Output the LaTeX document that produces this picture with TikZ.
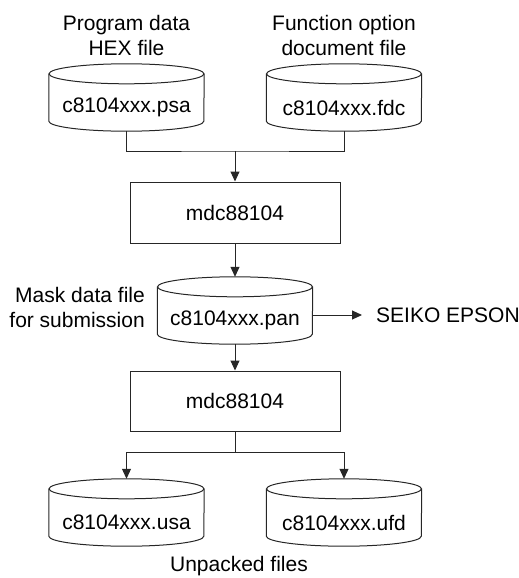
\documentclass[tikz,border=0pt]{standalone}
\usepackage{fontspec}
\setmainfont{Liberation Sans}
\usetikzlibrary{arrows.meta,calc}
\begin{document}
\begin{tikzpicture}[x=1pt,y=-1pt,
  line/.style={draw=black!85,line width=1pt},
  arr/.style={line,-{Triangle[length=10pt,width=9pt]}},
  cyl/.style={minimum width=155pt,minimum height=47pt,inner sep=0pt},
  box/.style={line,minimum width=210pt,minimum height=61pt,inner sep=0pt},
  lbl/.style={inner sep=0pt,align=center},
  every node/.style={font=\fontsize{21}{25}\selectfont}]
\useasboundingbox (0,0) rectangle (519,578);
% labels
\node[lbl] (lab1) at (126.5,35.5) {Program data\\HEX file};
\node[lbl] (lab2) at (344,35.5) {Function option\\document file};
% file nodes (body part of the cylinders)
\node[cyl] (psa) at (126.5,107.5) {c8104xxx.psa};
\node[cyl] (fdc) at (344,107.5) {c8104xxx.fdc};
\node[box] (box1) at (235,212.5) {mdc88104};
\node[cyl] (pan) at (235,320.5) {c8104xxx.pan};
\node[lbl,align=right,anchor=east] (mask) at (145,307) {Mask data file\\for submission};
\node[lbl,anchor=west] (seiko) at (376,315) {SEIKO EPSON};
\node[box,minimum height=60pt] (box2) at (235,401) {mdc88104};
\node[cyl] (usa) at (126.5,522.5) {c8104xxx.usa};
\node[cyl] (ufd) at (344,522.5) {c8104xxx.ufd};
\node[lbl] (unp) at (239,566) {Unpacked files};
% cylinder outlines
\foreach \n in {psa,fdc,pan,usa,ufd}{
  \draw[line] ($(\n.north)+(0pt,10pt)$) ellipse [x radius=77.5pt,y radius=10pt];
  \draw[line] ($(\n.north west)+(0pt,10pt)$) -- ($(\n.south west)+(0pt,10pt)$)
     arc[start angle=180,end angle=360,x radius=77.5pt,y radius=10pt]
     -- ($(\n.north east)+(0pt,10pt)$);
}
\coordinate (pantop) at ($(pan.north)+(0pt,20pt)$);
\coordinate (usatop) at ($(usa.north)+(0pt,20pt)$);
\coordinate (ufdtop) at ($(ufd.north)+(0pt,20pt)$);
% connectors
\coordinate (j1) at (235,151);
\coordinate (j2) at (235,452);
\draw[line] (psa.south) |- (j1) -| (fdc.south);
\draw[arr] (j1) -- (box1.north);
\draw[arr] (box1.south) -- (pantop);
\draw[arr,shorten >=14pt] (pan.east |- seiko.west) -- (seiko.west);
\draw[arr] (pan.south) -- (box2.north);
\draw[line] (box2.south) -- (j2);
\draw[arr] (j2) -| (usatop);
\draw[arr] (j2) -| (ufdtop);
\end{tikzpicture}
\end{document}
